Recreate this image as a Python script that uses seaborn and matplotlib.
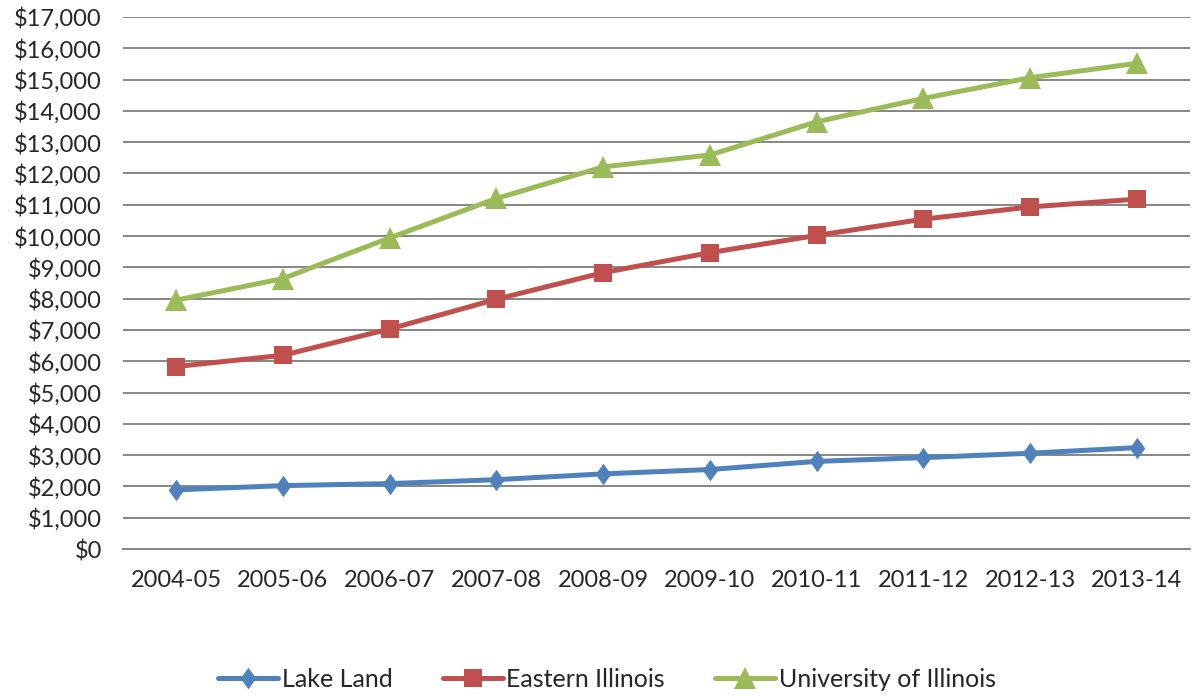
import pandas as pd
import seaborn as sns
import matplotlib.pyplot as plt
from matplotlib.ticker import FuncFormatter, MultipleLocator

years = ["2004-05", "2005-06", "2006-07", "2007-08", "2008-09",
         "2009-10", "2010-11", "2011-12", "2012-13", "2013-14"]
lake_land = [1890, 2025, 2090, 2215, 2400, 2540, 2800, 2920, 3060, 3240]
eastern_illinois = [5830, 6190, 7030, 7980, 8830, 9470, 10020, 10540, 10930, 11180]
univ_illinois = [7950, 8640, 9940, 11200, 12210, 12590, 13650, 14400, 15060, 15520]

schools = ["Lake Land", "Eastern Illinois", "University of Illinois"]
colors = ["#4F81BD", "#C0504D", "#9BBB59"]
# Excel-style diamond is a bit wider than matplotlib's thin diamond
diamond = [(0, 1), (0.72, 0), (0, -1), (-0.72, 0), (0, 1)]
markers = [diamond, "s", "^"]
msizes = [15.5, 12.5, 16]

df = pd.DataFrame({
    "year": years * 3,
    "cost": lake_land + eastern_illinois + univ_illinois,
    "school": [s for s in schools for _ in years],
})

sns.set_style("white")
plt.rcParams['font.family'] = ['Lato', 'DejaVu Sans']

fig = plt.figure(figsize=(11.93, 6.96), dpi=100)
ax = fig.add_axes([0.1028, 0.2112, 0.895, 0.7644])

for name, c, m, ms in zip(schools, colors, markers, msizes):
    sub = df[df["school"] == name]
    sns.lineplot(data=sub, x="year", y="cost", ax=ax, color=c, marker=m,
                 markersize=ms, markeredgewidth=0, linewidth=3.6, label=name,
                 legend=False)

ax.set_xlim(-0.5, len(years) - 0.5)
ax.set_ylim(0, 17000)
ax.yaxis.set_major_locator(MultipleLocator(1000))
ax.yaxis.set_major_formatter(FuncFormatter(lambda v, p: "${:,.0f}".format(v)))
ax.grid(axis="y", color="#868686", linewidth=1.4)
ax.set_axisbelow(True)
for s in ["top", "right", "left"]:
    ax.spines[s].set_visible(False)
ax.spines["bottom"].set_color("#868686")
ax.spines["bottom"].set_linewidth(1.4)
ax.tick_params(axis="y", length=0, labelsize=17, pad=15)
ax.tick_params(axis="x", length=0, labelsize=17, pad=15)
ax.set_xlabel("")
ax.set_ylabel("")

handles, labels = ax.get_legend_handles_labels()
fig.legend(handles, labels, loc="center", bbox_to_anchor=(607 / 1193, 0.024),
           ncol=3, frameon=False, fontsize=18, handlelength=2.4,
           columnspacing=2.0, handletextpad=0.15)

fig.savefig("out.png", dpi=100)
